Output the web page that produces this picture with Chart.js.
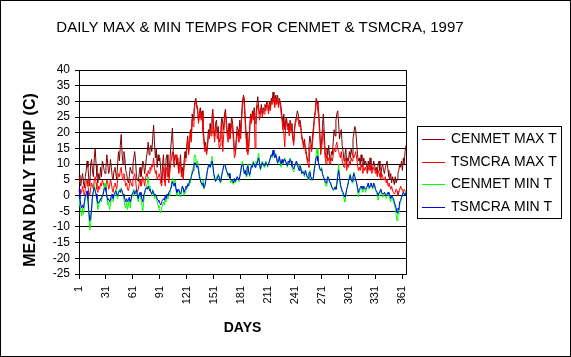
<!DOCTYPE html>
<html><head><meta charset="utf-8">
<script src="https://cdn.jsdelivr.net/npm/chart.js@4.4.1/dist/chart.umd.min.js"></script>
<style>html,body{margin:0;padding:0;background:#fff;overflow:hidden}canvas{display:block}</style>
</head><body>
<canvas id="c" width="571" height="357" style="width:571px;height:357px"></canvas>
<script>
const chartTitle = "DAILY MAX & MIN TEMPS FOR CENMET & TSMCRA, 1997";
const xTitle = "DAYS";
const yTitle = "MEAN DAILY TEMP (C)";
const seriesNames = ["CENMET MAX T", "TSMCRA MAX T", "CENMET MIN T", "TSMCRA MIN T"];
const seriesColors = ["#800000", "#FF0000", "#00FF00", "#0000FF"];
const yMin = -25, yMax = 40, yStep = 5;
const labelEvery = 30;
const days = Array.from({length: 365}, (_, i) => i + 1);

const cenmetMax = [
6.5,4,3,5.5,7,4,2.5,6,8,11,
9,5,3,10,11.5,8,6,12,15,10,
6,4,7,5,9,6,11,10,8,7,
9,13,10,7,8,11.5,9,6,5,8,
9,7,5,10,14,11,16,19.5,13,10,
14,12,8,7,5,4,6,9,8,7,
10,12,14,11,6,5,4.5,7,9,6,
8,11,10,7,9,12,14,17,13,15,
16,14,18,22.5,17,12,15,9,13,11,
12,8,4,10,13,7,5,12,13,9,
6,10,15,18,21.5,14,11,13,12,10,
12,8,10,13,7,9,6,11,14,12,
16,19,14,17,21,18,26,24,27,30,
31,29,28,24,26,28,25,27,22,19,
15,17,14,16,21,19,23,20,25,27.5,
21,19,23,24,20,22,17,18,22,25,
23,21,26,27.5,24,21,19,23,20,22,
25,23,19,15,14,18,22,21,19,24,
20,26,30,32,31,25,20,16,14,17,
22,26,24,27,25,28,23,26,29,31.5,
28,26,27,29,26,28,27,29,28,30,
29,27,30,28,31,30,33,31,29,32,
30,32,29,31,30,28,25,22,26,21,
24,25,22,23,20,24,21,23,19,17,
22,24,25,27,26,23,24,22,19,18,
16,18,15,14,12,11,16,19,17,15,
19,22,25,27,31,30,29,26,21,15,
17,22,26,20,14,12,15,13,16,12,
11,14,13,17,21,19,24,26,27,23,
18,20,21,16,14,11,13,15,10,12,
11,14,12,15,13,18,20,22,21,17,
13,11,12,10,13,11,9,12,10,11,
10,8,11,9,12,10,8,9,11,10,
8,9,7,10,11,8,6,9,10,8,
7,9,10,11,8,6,5,7,4,6,
5,3.5,6,4,5,7,8,10,9,11,
8,12,10,14,16
];

const tsmcraMax = [
2,1,0.5,1.5,3,1,0,2,4,5,
3,1,0,2.5,4,3,2,5,6,4,
2,1,3,2,4,3,5,4,3,2.5,
3,5,4,2,3,5,4,2,1,3,
4,3,2,5,7,6,8,9,6,5,
7,5,3,4,2,1.5,3,5,4,3,
5,6,7,5,2,1,2,4,5,3,
4,6,5,3,5,7,6,8,7,9,
8,10,9,12,9,7,8,5,6,7,
6,4,3,7,9,5,3,8,9,6,
4,7,10,12,14,11,9,12,13,11,
10,7,8,11,6,7,5,9,11,12,
15,18,13,16,20,17,24,22,26,29,
30,28,27,23,25,27,24,26,20,17,
14,15,13,15,19,18,21,19,23,26,
20,17,21,22,18,20,15,16,20,23,
14,19,24,26,22,19,17,21,18,20,
23,21,17,12,13,16,20,19,17,22,
18,24,28,31,29,23,18,14,13,15,
20,25,23,26,24,27,15,22,27,29,
27,24,26,28,25,27,26,28,27,29,
28,26,29,27,30,29,31,30,28,31,
29,31,28,30,29,26,24,21,20,15.5,
22,24,21,22,19,23,20,21,18,16,
21,23,24,25,24,22,23,21,18,17,
15,17,14,13,11,10,9,15,16,14,
17,20,24,26,30,29,27,24,19,13,
15,18,21,16,12,10,13,11,12,10,
10,12,11,13,15,14,16,17,15,14,
13,12,14,11,10,9,11,12,8,10,
9,11,10,12,11,13,12,13,14,12,
10,8,9,8,10,9,7,9,8,9,
8,7,9,8,10,8,7,8,9,8,
7,8,6,8,7,6,5,7,6,5,
5,6,4,5,3,4,3,2,3,1.5,
1,0.5,1,2,1.5,0,1,2,3,2,
2,1,2,1.5,1
];

const cenmetMin = [
0,-3,-5,-6.5,-4,-6,-3,-1,0,1,
-2,-7,-11,-9,-5,-1,1,3.5,2,0,
-2,-4.5,-3,-2,-1,-2,0,1,3,4,
2,-1,-3,-2,-4.5,-3,-1,0,-2,0,
1,2,0,-1,1,2,1,2.5,1,0,
-1,-3,-4,-2,-4.5,-3,-1,-4,-2,0,
1,2,0,1,2,-1,-2,0,1,-1,
-3,-5,-2,0,2,3,4,6,3,2,
1,0,2,1,-1,0,-1,-2,-3,-4,
-5,-5.5,-4,-3,-2,-3,-1,-2,0,-1,
1,0,2,4,5.5,4,3,5,2,0,
1,2,0,-0.5,1,3,2,0,1,3,
2,4,3,5,4,6,8,9,12,13,
12,10,11,9,7,5,4,3,5,2,
3,5,7,8,9,10,9,11,12.5,10,
7,5,4.5,6,5,7,6,4,5,7,
8,9,10,9,8,7,6,7,5,4,
5,4,3.5,5,4,5,6,5,4.5,6,
8,10,11,9,7,8,6,9,10,7,
6,8,10,9,11,10,9,11,10,12,
13.5,10,8,10,11,10,9,10,11,10,
9,10,11,12,13,12,14,13,12,13.5,
12,10,11,12,10,9,11,10,11,12,
11,10,9,11,10,12,11,9,8,7.5,
9,10,11,10,9,8,10,9,7,8,
7,6,8,7,6,5,7,8,6,5,
5,6,9,11,13,15,12,10,9,8,
9,7,6,5,4,3,5,6,5,4,
4,3,2,1.5,2,3,2,4,7,10,
6,3,2,1,0,-1,-2,0,2,3,
5,6,7,5,4,6,7.5,6,5,4,
2,-0.5,1,2,3,2,1,3,2,1,
2,3,4,2,3,4,3,2,4,3,
2,1,0,-1.5,0,1,2,0.5,-0.5,0,
1,0,-1,0,1,0,-1,-2,0,-1,
-2,-3,-4,-6,-8,-5,-6,-3,-2,-1,
0,1,0.5,1,1.5
];

const tsmcraMin = [
2,-1,-3,-4,-3,-4,-2,0,0.5,1.5,
-1,-5,-8,-7,-4,0,1.5,2.5,1.5,0.5,
-1,-2.5,-2,-2,-1,-1,0,0.5,2,2.5,
1.5,0,-1.5,-1,-2,-1.5,0,0.5,-1,0.5,
1,1.5,0.5,0,1,1.5,1,2,1.5,0.5,
0,-1,-2,-1,-2,-1.5,-0.5,-2,-1,0.5,
1,1.5,0.5,1,2,0,-1,0.5,1,0,
-1,-2,0,1,2,2.5,2,3,2,1.5,
1,0.5,1.5,1,0,0.5,0,-1,-1.5,-2,
-2.5,-3,-2,-1.5,-1,-1.5,0,-1,0.5,0,
1,1.5,2,3,4.5,3.5,3,4,2,1,
1.5,2,1,0.5,1.5,3,2.5,1,2,3,
2.5,3.5,3,4.5,5,6,7,8,10,10.5,
10,9,9.5,8,6,5,4,3.5,4,2.5,
3,4.5,6,8,9.5,10,9,10,11,9.5,
7,5.5,4.5,5,5.5,6.5,6,4.5,5,6.5,
8,9.5,10,9.5,8,7.5,6.5,7,5.5,5,
5,4.5,4,5.5,4.5,5,6,5.5,5,6,
7.5,9.5,10,9,7,8,6.5,8.5,9.5,7.5,
6.5,8,9.5,9,10.5,10,9,10,10,11,
12,10,8.5,9.5,10.5,10,9.5,10,10.5,10,
9.5,10,11,12,13,12.5,14.5,13,12,13,
12,10.5,11,12.5,11,10,11.5,10.5,11,11.5,
11,10,9.5,11,10.5,11.5,11,9.5,9,8.5,
9.5,10,11,10,9,8,9.5,8.5,7,7.5,
7.5,6.5,8,7,6,5.5,7,7.5,6,5,
5,6,8.5,10,12,12.5,11,10,8.5,8,
8.5,7,6,5.5,4.5,4,5,6,5.5,4.5,
4,3,2.5,2,2,2.5,2,3.5,6,8,
6,3.5,2.5,1.5,1,0,-0.5,0.5,2,3,
4.5,5.5,6.5,5,4.5,6,7,6,5,4,
2.5,1,2,2.5,3,2.5,2,3,2.5,2,
2.5,3,4,2.5,3,4,3,2.5,4,3.5,
2,1.5,1,0,1,1.5,2,1,0.5,0.5,
1,0.5,0,0.5,1,0.5,0,-1,0,-0.5,
-1,-2,-3,-4,-5.5,-4,-4.5,-2,-1.5,-0.5,
0.5,1,0.5,0,1
];

const seriesData = [cenmetMax, tsmcraMax, cenmetMin, tsmcraMin];
const FONT = "'Liberation Sans', Arial, sans-serif";

const decor = {
  id: 'decor',
  afterDraw(chart) {
    const ctx = chart.ctx, a = chart.chartArea;
    ctx.save();
    ctx.strokeStyle = '#000'; ctx.lineWidth = 1;
    ctx.beginPath();
    const r = Math.round(a.right) + 0.5, t = Math.round(a.top) + 0.5;
    ctx.moveTo(Math.round(a.left) + 0.5, t); ctx.lineTo(r, t); ctx.lineTo(r, Math.round(a.bottom) + 0.5);
    ctx.stroke();
    ctx.strokeRect(0.5, 0.5, 570, 356);
    ctx.fillStyle = '#000';
    ctx.font = "15px " + FONT; ctx.textAlign = 'center'; ctx.textBaseline = 'alphabetic';
    ctx.fillText(chartTitle, 260, 32);
    ctx.font = "bold 14px " + FONT;
    ctx.fillText(xTitle, (a.left + a.right) / 2, 332);
    ctx.save();
    ctx.translate(31, 180); ctx.rotate(-Math.PI / 2);
    ctx.font = "bold 16px " + FONT; ctx.textBaseline = 'middle';
    ctx.fillText(yTitle, 0, 0);
    ctx.restore();
    ctx.strokeStyle = '#000';
    ctx.strokeRect(417.5, 126.5, 144, 92);
    ctx.font = "14px " + FONT; ctx.textAlign = 'left'; ctx.textBaseline = 'middle';
    const rows = [139, 162, 184, 207];
    for (let i = 0; i < seriesNames.length; i++) {
      ctx.beginPath();
      ctx.strokeStyle = seriesColors[i];
      ctx.moveTo(422, rows[i] + 0.5); ctx.lineTo(445, rows[i] + 0.5);
      ctx.stroke();
      ctx.fillStyle = '#000';
      ctx.fillText(seriesNames[i], 451, rows[i] + 0.5);
    }
    ctx.restore();
  }
};

new Chart(document.getElementById('c'), {
  type: 'line',
  data: {
    labels: days,
    datasets: seriesData.map((d, i) => ({
      label: seriesNames[i],
      data: d,
      borderColor: seriesColors[i],
      backgroundColor: seriesColors[i],
      borderWidth: 1,
      pointRadius: 0,
      tension: 0,
      fill: false,
      order: 4 - i
    }))
  },
  options: {
    responsive: false,
    animation: false,
    devicePixelRatio: 1,
    layout: { padding: { left: 0, top: 70, right: 165, bottom: 0 } },
    plugins: { legend: { display: false }, title: { display: false }, tooltip: { enabled: false } },
    scales: {
      x: {
        type: 'category',
        offset: false,
        afterFit(s) { s.height = 83; },
        border: { display: true, color: '#000', width: 1 },
        grid: {
          display: true, drawOnChartArea: false, drawTicks: true, tickLength: 5, offset: false,
          color: (c) => (c.index % labelEvery === 0 ? '#000' : 'rgba(0,0,0,0)')
        },
        ticks: {
          autoSkip: false, maxRotation: 90, minRotation: 90, padding: 7,
          color: '#000', font: { family: FONT, size: 11 },
          callback: function (v, i) { return i % labelEvery === 0 ? String(days[i]) : ''; }
        }
      },
      y: {
        min: yMin, max: yMax,
        afterFit(s) { s.width = 79; },
        border: { display: true, color: '#000', width: 1 },
        grid: { color: '#000', lineWidth: 1, drawTicks: true, tickLength: 4 },
        ticks: { stepSize: yStep, autoSkip: false, padding: 5, color: '#000', font: { family: FONT, size: 12 } }
      }
    }
  },
  plugins: [decor]
});
</script>
</body></html>
